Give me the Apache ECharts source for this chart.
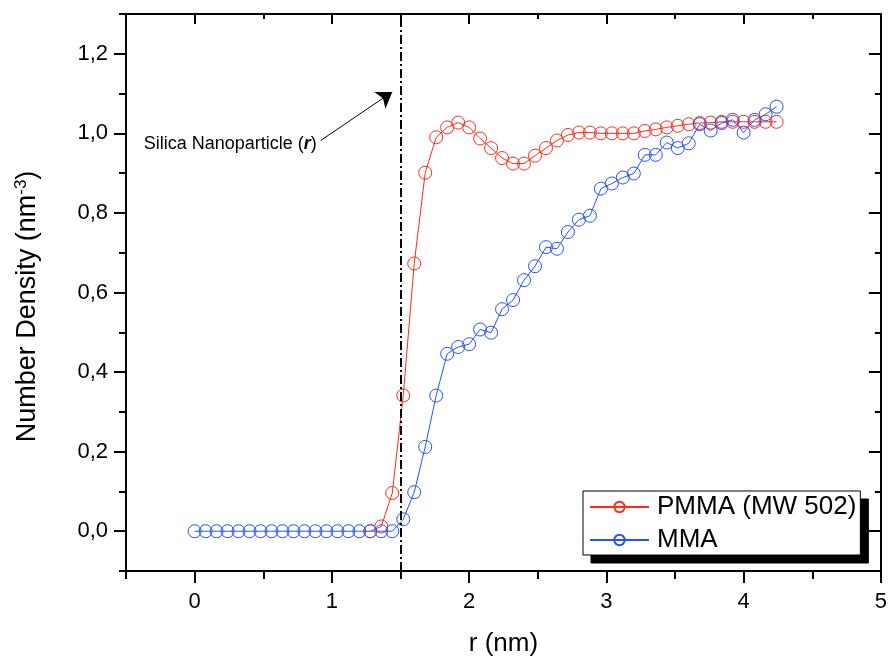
<!DOCTYPE html>
<html>
<head>
<meta charset="utf-8">
<script src="https://cdn.jsdelivr.net/npm/echarts@6/dist/echarts.min.js"></script>
<style>
html,body{margin:0;padding:0;background:#fff;}
#chart{width:890px;height:662px;}
</style>
</head>
<body>
<div id="chart"></div>
<script>
// radial distance r (nm)
const rValues = [0, 0.08, 0.16, 0.24, 0.32, 0.40, 0.48, 0.56, 0.64, 0.72, 0.80, 0.88, 0.96, 1.04, 1.12, 1.20, 1.28, 1.36, 1.44, 1.52, 1.60, 1.68, 1.76, 1.84, 1.92, 2.00, 2.08, 2.16, 2.24, 2.32, 2.40, 2.48, 2.56, 2.64, 2.72, 2.80, 2.88, 2.96, 3.04, 3.12, 3.20, 3.28, 3.36, 3.44, 3.52, 3.60, 3.68, 3.76, 3.84, 3.92, 4.00, 4.08, 4.16, 4.24];
// PMMA (MW 502) number density (no points drawn below r = 1.28)
const pmmaValues = [null, null, null, null, null, null, null, null, null, null, null, null, null, null, null, null, 0,
  0.012, 0.096, 0.341, 0.673, 0.901, 0.990, 1.015, 1.027, 1.015, 0.987, 0.963, 0.938, 0.924, 0.924, 0.944, 0.963, 0.982, 0.996, 1.002, 1.002, 1.000, 1.000, 1.000, 1.000, 1.006, 1.010, 1.015, 1.019, 1.023, 1.026, 1.027, 1.029, 1.029, 1.029, 1.029, 1.029, 1.029];
// MMA number density
const mmaValues = [0, 0, 0, 0, 0, 0, 0, 0, 0, 0, 0, 0, 0, 0, 0, 0, 0, 0, 0,
  0.030, 0.098, 0.212, 0.341, 0.446, 0.463, 0.470, 0.507, 0.499, 0.558, 0.581, 0.631, 0.666, 0.714, 0.710, 0.752, 0.783, 0.793, 0.861, 0.874, 0.889, 0.899, 0.946, 0.946, 0.977, 0.963, 0.975, 1.023, 1.007, 1.026, 1.034, 1.002, 1.034, 1.048, 1.067];
// tick labels
const xTickValues = [0, 1, 2, 3, 4, 5];
const yTickValues = [0, 0.2, 0.4, 0.6, 0.8, 1.0, 1.2];
const yTickLabels = ['0,0', '0,2', '0,4', '0,6', '0,8', '1,0', '1,2'];
const seriesNames = ['PMMA (MW 502)', 'MMA'];
const particleRadius = 1.5;
const annotationText = 'Silica Nanoparticle (';
const annotationPos = [-0.371, 0.973];
const arrowFrom = [0.918, 0.982];
const arrowTo = [1.44, 1.104];

const FONT = '"Liberation Sans", Arial, sans-serif';
const pair = (xs, ys) => xs.map((x, i) => [x, ys[i]]).filter(p => p[1] !== null);

const chart = echarts.init(document.getElementById('chart'), null, {renderer: 'canvas'});

const black = '#000';
const red = '#ff2a1a';
const blue = '#2352ff';
const baseX = {type: 'value', min: -0.5, max: 5, splitLine: {show: false}};
const baseY = {type: 'value', min: -0.1, max: 1.3, splitLine: {show: false}};
const lineOn = {onZero: false, lineStyle: {color: black, width: 2}};
const lineOff = {show: false, onZero: false};

const legendBase = {
  orient: 'vertical',
  data: seriesNames,
  padding: [3, 4, 2, 6],
  itemGap: 7, itemWidth: 59, itemHeight: 13,
  selectedMode: false
};

chart.setOption({
  animation: false,
  backgroundColor: '#fff',
  grid: {left: 126, right: 9, top: 14, bottom: 85, containLabel: false},
  legend: [
    Object.assign({}, legendBase, {
      left: 583, top: 491, z: 5,
      backgroundColor: '#fff', borderColor: black, borderWidth: 1,
      textStyle: {fontSize: 26, fontFamily: FONT, color: black, padding: [0, 0, 0, 3]}
    }),
    // drop shadow block behind the legend box
    Object.assign({}, legendBase, {
      left: 591, top: 499, z: 4,
      backgroundColor: black, borderColor: black, borderWidth: 1,
      itemStyle: {color: black, borderColor: black},
      lineStyle: {color: black},
      textStyle: {fontSize: 26, fontFamily: FONT, color: black, padding: [0, 0, 0, 3]}
    })
  ],
  xAxis: [
    Object.assign({}, baseX, {position: 'bottom', interval: 0.5,
      axisLine: lineOn,
      axisTick: {length: 8, lineStyle: {color: black, width: 2}},
      axisLabel: {show: false}}),
    Object.assign({}, baseX, {position: 'bottom',
      axisLine: lineOff,
      axisTick: {customValues: xTickValues, length: 12, lineStyle: {color: black, width: 2}},
      axisLabel: {customValues: xTickValues, margin: 20, fontSize: 22, fontFamily: FONT, color: black},
      name: 'r (nm)', nameLocation: 'middle', nameGap: 60,
      nameTextStyle: {fontSize: 26, fontFamily: FONT, color: black}}),
    Object.assign({}, baseX, {position: 'top', interval: 0.5,
      axisLine: lineOn,
      axisTick: {inside: true, length: 5, lineStyle: {color: black, width: 2}},
      axisLabel: {show: false}}),
    Object.assign({}, baseX, {position: 'top',
      axisLine: lineOff,
      axisTick: {inside: true, customValues: xTickValues, length: 10, lineStyle: {color: black, width: 2}},
      axisLabel: {show: false}})
  ],
  yAxis: [
    Object.assign({}, baseY, {position: 'left', interval: 0.1,
      axisLine: lineOn,
      axisTick: {length: 7, lineStyle: {color: black, width: 2}},
      axisLabel: {show: false}}),
    Object.assign({}, baseY, {position: 'left',
      axisLine: lineOff,
      axisTick: {customValues: yTickValues, length: 12, lineStyle: {color: black, width: 2}},
      axisLabel: {customValues: yTickValues, margin: 18, fontSize: 22, fontFamily: FONT, color: black,
        formatter: v => yTickLabels[yTickValues.findIndex(t => Math.abs(t - v) < 1e-6)] || ''},
      name: '{a|Number Density (nm}{s|-3}{a|)}', nameLocation: 'middle', nameGap: 83,
      nameTextStyle: {fontSize: 27, fontFamily: FONT, color: black, padding: [0, 28, 0, 0],
        rich: {
          a: {fontSize: 27, fontFamily: FONT, color: black, lineHeight: 30},
          s: {fontSize: 17, fontFamily: FONT, color: black, verticalAlign: 'top', lineHeight: 18}
        }}}),
    Object.assign({}, baseY, {position: 'right', interval: 0.1,
      axisLine: lineOn,
      axisTick: {inside: true, length: 6, lineStyle: {color: black, width: 2}},
      axisLabel: {show: false}}),
    Object.assign({}, baseY, {position: 'right',
      axisLine: lineOff,
      axisTick: {inside: true, customValues: yTickValues, length: 12, lineStyle: {color: black, width: 2}},
      axisLabel: {show: false}})
  ],
  series: [
    {
      name: seriesNames[0], type: 'line', xAxisIndex: 0, yAxisIndex: 0,
      data: pair(rValues, pmmaValues),
      symbol: 'circle', symbolSize: 13, showAllSymbol: true,
      itemStyle: {color: 'rgba(255,255,255,0)', borderColor: red, borderWidth: 1},
      lineStyle: {color: red, width: 1},
      emphasis: {disabled: true},
      markLine: {
        silent: true, animation: false,
        symbol: ['none', 'none'],
        label: {show: false},
        data: [
          {xAxis: particleRadius, lineStyle: {type: [9, 3, 2, 3], width: 2, color: black}},
          [
            {coord: arrowFrom, symbol: 'none', lineStyle: {type: 'solid', width: 1, color: black}},
            {coord: arrowTo, symbol: 'arrow', symbolSize: 15}
          ]
        ]
      },
      markPoint: {
        silent: true, animation: false,
        data: [{
          coord: annotationPos, symbol: 'circle', symbolSize: 0,
          itemStyle: {color: 'rgba(0,0,0,0)'},
          label: {
            show: true, position: 'right', distance: 0,
            formatter: '{a|' + annotationText + '}{b|r}{a|)}',
            rich: {
              a: {fontSize: 18, fontFamily: FONT, color: black},
              b: {fontSize: 18, fontFamily: FONT, color: black, fontWeight: 'bold', fontStyle: 'italic'}
            }
          }
        }]
      }
    },
    {
      name: seriesNames[1], type: 'line', xAxisIndex: 0, yAxisIndex: 0,
      data: pair(rValues, mmaValues),
      symbol: 'circle', symbolSize: 13, showAllSymbol: true,
      itemStyle: {color: 'rgba(255,255,255,0)', borderColor: blue, borderWidth: 1},
      lineStyle: {color: blue, width: 1},
      emphasis: {disabled: true}
    }
  ]
});
</script>
</body>
</html>
